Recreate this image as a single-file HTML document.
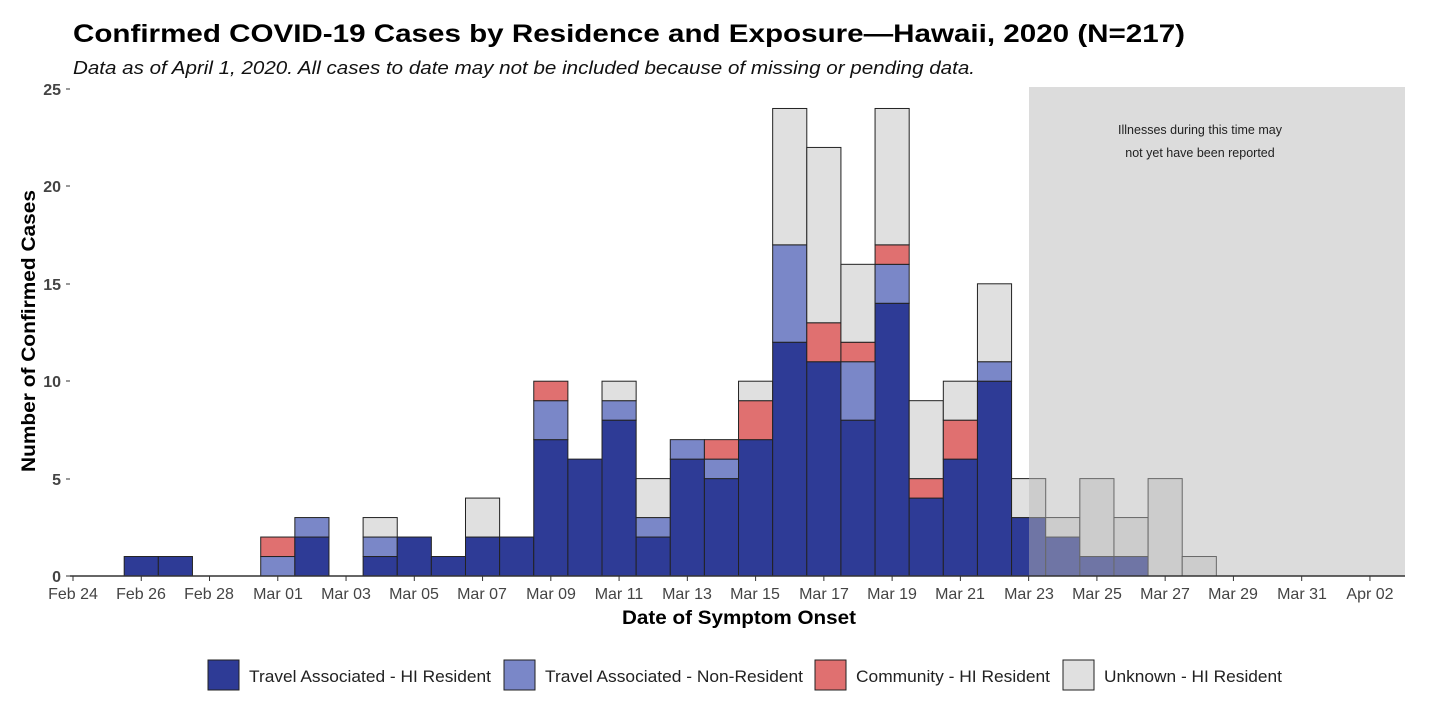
<!DOCTYPE html><html><head><meta charset="utf-8"><style>body{margin:0;background:#fff;width:1430px;height:710px;overflow:hidden}svg{display:block;font-family:"Liberation Sans",sans-serif}</style></head><body>
<svg id="s" width="1430" height="710" xmlns="http://www.w3.org/2000/svg">
<text x="73" y="42" font-size="25" font-weight="bold" fill="#000" textLength="1112" lengthAdjust="spacingAndGlyphs">Confirmed COVID-19 Cases by Residence and Exposure—Hawaii, 2020 (N=217)</text>
<text x="73" y="74" font-size="18" font-style="italic" fill="#111" textLength="902" lengthAdjust="spacingAndGlyphs">Data as of April 1, 2020. All cases to date may not be included because of missing or pending data.</text>
<g id="bars"></g>
<rect x="1029" y="87" width="376" height="489" fill="rgb(182,182,182)" fill-opacity="0.48"/>
<text x="1200" y="134" font-size="12.5" text-anchor="middle" fill="#222">Illnesses during this time may</text>
<text x="1200" y="157" font-size="12.5" text-anchor="middle" fill="#222">not yet have been reported</text>
<line x1="70" y1="576" x2="1405" y2="576" stroke="#333" stroke-width="1.5"/>
<g font-size="16" fill="#444" text-anchor="end" font-weight="bold">
<text x="61" y="582">0</text><text x="61" y="485">5</text><text x="61" y="387">10</text><text x="61" y="290">15</text><text x="61" y="192">20</text><text x="61" y="95">25</text>
</g>
<g stroke="#333"><line x1="66" y1="576" x2="70" y2="576"/><line x1="66" y1="479" x2="70" y2="479"/><line x1="66" y1="381" x2="70" y2="381"/><line x1="66" y1="284" x2="70" y2="284"/><line x1="66" y1="186" x2="70" y2="186"/><line x1="66" y1="89" x2="70" y2="89"/></g>
<g id="xt" stroke="#333"></g>
<g font-size="16" fill="#444" text-anchor="middle">
<text x="73" y="599">Feb 24</text><text x="141" y="599">Feb 26</text><text x="209" y="599">Feb 28</text><text x="278" y="599">Mar 01</text><text x="346" y="599">Mar 03</text><text x="414" y="599">Mar 05</text><text x="482" y="599">Mar 07</text><text x="551" y="599">Mar 09</text><text x="619" y="599">Mar 11</text><text x="687" y="599">Mar 13</text><text x="755" y="599">Mar 15</text><text x="824" y="599">Mar 17</text><text x="892" y="599">Mar 19</text><text x="960" y="599">Mar 21</text><text x="1029" y="599">Mar 23</text><text x="1097" y="599">Mar 25</text><text x="1165" y="599">Mar 27</text><text x="1233" y="599">Mar 29</text><text x="1302" y="599">Mar 31</text><text x="1370" y="599">Apr 02</text>
</g>
<text x="739" y="624" font-size="19" font-weight="bold" text-anchor="middle" textLength="234" lengthAdjust="spacingAndGlyphs">Date of Symptom Onset</text>
<text transform="translate(35,331) rotate(-90)" font-size="19" font-weight="bold" text-anchor="middle" textLength="282" lengthAdjust="spacingAndGlyphs">Number of Confirmed Cases</text>
<g stroke="#222" stroke-width="1">
<rect x="208" y="660" width="31" height="30" fill="#2e3b96"/>
<rect x="504" y="660" width="31" height="30" fill="#7a87c8"/>
<rect x="815" y="660" width="31" height="30" fill="#e07070"/>
<rect x="1063" y="660" width="31" height="30" fill="#e0e0e0"/>
</g>
<g font-size="16.5" fill="#222">
<text x="249" y="682" textLength="242" lengthAdjust="spacingAndGlyphs">Travel Associated - HI Resident</text>
<text x="545" y="682" textLength="258" lengthAdjust="spacingAndGlyphs">Travel Associated - Non-Resident</text>
<text x="856" y="682" textLength="194" lengthAdjust="spacingAndGlyphs">Community - HI Resident</text>
<text x="1104" y="682" textLength="178" lengthAdjust="spacingAndGlyphs">Unknown - HI Resident</text>
</g>
</svg>
<script>
var NS="http://www.w3.org/2000/svg",g=document.getElementById('bars'),xt=document.getElementById('xt');
var C=['#2e3b96','#7a87c8','#e07070','#e0e0e0'];
var d={2:[1],3:[1],6:[0,1,1],7:[2,1],9:[1,1,0,1],10:[2],11:[1],12:[2,0,0,2],13:[2],14:[7,2,1],15:[6],16:[8,1,0,1],17:[2,1,0,2],18:[6,1],19:[5,1,1],20:[7,0,2,1],21:[12,5,0,7],22:[11,0,2,9],23:[8,3,1,4],24:[14,2,1,7],25:[4,0,1,4],26:[6,0,2,2],27:[10,1,0,4],28:[3,0,0,2],29:[2,0,0,1],30:[1,0,0,4],31:[1,0,0,2],32:[0,0,0,5],33:[0,0,0,1]};
var W=34.13,U=19.48;
for(var k in d){var cx=73+W*k,b=0;d[k].forEach(function(v,i){if(!v)return;var r=document.createElementNS(NS,'rect');r.setAttribute('x',cx-W/2);r.setAttribute('width',W);r.setAttribute('y',576-U*(b+v));r.setAttribute('height',U*v);r.setAttribute('fill',C[i]);r.setAttribute('stroke','#222');g.appendChild(r);b+=v;});}
for(var i=0;i<=38;i+=2){var l=document.createElementNS(NS,'line'),x=73+W*i;l.setAttribute('x1',x);l.setAttribute('x2',x);l.setAttribute('y1',576);l.setAttribute('y2',581);xt.appendChild(l);}
</script>
</body></html>
